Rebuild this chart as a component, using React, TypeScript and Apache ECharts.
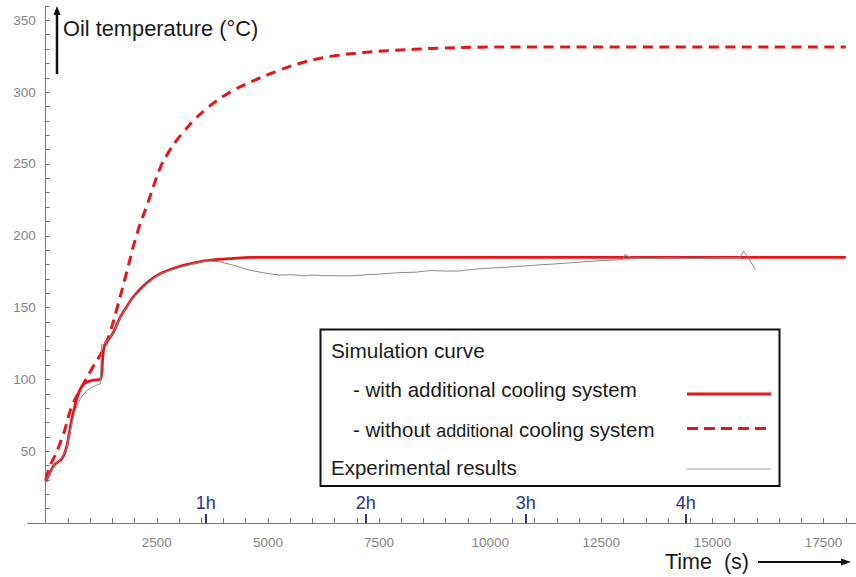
import React, { useEffect, useRef } from 'react';
import * as echarts from 'echarts';

// ---- data (time in s, oil temperature in °C) ----
const withCooling: [number, number][] = [
  [0, 28.7], [100, 35.5], [210, 41], [360, 44.5], [470, 53], [585, 72], [660, 82],
  [735, 90], [810, 95], [885, 97.5], [1070, 99.5], [1230, 100], [1290, 118],
  [1340, 125], [1420, 128], [1520, 132.5], [1672, 143], [1830, 151], [1970, 157.5],
  [2270, 167], [2570, 173.5], [3020, 178.8], [3320, 181], [3700, 183], [4220, 184.3],
  [4600, 185], [18000, 185],
];

const withoutCooling: [number, number][] = [
  [0, 30], [100, 40], [210, 47], [400, 62], [585, 81], [800, 94], [1050, 108],
  [1300, 121], [1450, 133], [1600, 149], [1800, 172], [2050, 201], [2300, 223],
  [2572, 247], [2750, 257.5], [2945, 266.5], [3120, 273], [3320, 280], [3580, 287.5],
  [3850, 294], [4220, 301.3], [4600, 307], [4970, 311.8], [5270, 315.5], [5650, 319.5],
  [6020, 322.5], [6500, 325.3], [7150, 327.6], [7700, 328.9], [8270, 329.8],
  [8800, 330.6], [9770, 331.3], [10500, 331.5], [18000, 331.5],
];

const experimental: [number, number][] = [
  [0, 29], [100, 35], [210, 41], [360, 45], [470, 52], [585, 69], [660, 78], [735, 84],
  [810, 88], [920, 92], [1000, 94], [1150, 96], [1230, 97], [1260, 124], [1300, 124],
  [1410, 128], [1520, 132], [1710, 145], [1970, 157], [2270, 166.5], [2570, 173.5],
  [3020, 178], [3320, 180.5], [3620, 182.5], [3900, 182], [4220, 179.5], [4600, 176],
  [4970, 173.8], [5270, 172.6], [5500, 172.9], [5800, 172.3], [6000, 172.6],
  [6300, 172.2], [6850, 172.1], [7200, 172.8], [7500, 173.3], [7800, 174.0],
  [8000, 174.4], [8300, 174.6], [8650, 175.8], [9000, 175.4], [9320, 175.5],
  [9600, 176.6], [10000, 177.5], [10500, 178.4], [11000, 179.5], [11650, 180.8],
  [12300, 182.3], [12990, 183.5], [13030, 187], [13180, 184.6], [13600, 184.2],
  [14000, 184.6], [14500, 184.2], [15000, 184.5], [15620, 184.6], [15700, 189.3],
  [15800, 185.3], [15960, 176.5],
];

const xLabelValues = [2500, 5000, 7500, 10000, 12500, 15000, 17500];
const xTickValues = Array.from({ length: 37 }, (_, i) => i * 500);
const hourTicks = [3600, 7200, 10800, 14400];
const hourLabels = ['1h', '2h', '3h', '4h'];

const FONT = '"Liberation Sans", Arial, Helvetica, sans-serif';
const RED = '#e3161b';
const NAVY = '#2b3290';
const AXIS = '#7a7a7a';

const GRID_LEFT = 45.7;
const GRID_BOTTOM = 54;

export default function App() {
  const ref = useRef<HTMLDivElement>(null);

  useEffect(() => {
    if (!ref.current) return;
    const chart = echarts.init(ref.current, undefined, { renderer: 'svg' });

    const axisY = 577 - GRID_BOTTOM;

    const option: any = {
      animation: false,
      backgroundColor: '#ffffff',
      grid: { left: GRID_LEFT, right: 0, top: 6, bottom: GRID_BOTTOM, containLabel: false, outerBoundsMode: 'none' },
      xAxis: [
        {
          type: 'value', min: 0, max: 18230, position: 'bottom',
          axisLine: { show: true, onZero: false, lineStyle: { color: AXIS, width: 1 } },
          axisTick: { show: true, inside: true, length: 5, customValues: xTickValues, lineStyle: { color: AXIS } },
          axisLabel: {
            show: true, customValues: xLabelValues, formatter: (v: number) => String(v),
            color: '#858585', fontSize: 13.5, margin: 12, fontFamily: FONT,
          },
          splitLine: { show: false },
        },
        {
          type: 'value', min: 0, max: 18230, position: 'bottom',
          axisLine: { show: false, onZero: false },
          axisTick: { show: true, inside: true, length: 9, customValues: hourTicks, lineStyle: { color: NAVY, width: 2 } },
          axisLabel: {
            show: true, inside: true, customValues: hourTicks,
            formatter: (v: number) => hourLabels[hourTicks.indexOf(v)] ?? '',
            color: NAVY, fontSize: 18, margin: 11, fontFamily: FONT,
          },
          splitLine: { show: false },
        },
      ],
      yAxis: {
        type: 'value', min: 0, max: 360, interval: 10,
        axisLine: { show: true, onZero: false, lineStyle: { color: AXIS, width: 1 } },
        axisTick: { show: true, inside: true, length: 4, lineStyle: { color: AXIS } },
        axisLabel: {
          formatter: (v: number) => (v % 50 === 0 && v > 0 ? String(v) : ''),
          color: '#858585', fontSize: 13.5, margin: 10, fontFamily: FONT,
        },
        splitLine: { show: false },
      },
      series: [
        {
          name: 'without', type: 'line', data: withoutCooling, showSymbol: false, symbol: 'none',
          smooth: 0.4,
          lineStyle: { color: RED, width: 3, type: [10, 6.5] },
        },
        {
          name: 'with', type: 'line', data: withCooling, showSymbol: false, symbol: 'none',
          smooth: 0.3,
          lineStyle: { color: RED, width: 2.8 },
        },
        {
          name: 'experimental', type: 'line', data: experimental, showSymbol: false, symbol: 'none',
          lineStyle: { color: '#8a8a8a', width: 1 },
        },
      ],
      graphic: [
        // short extension of the time axis to the left of the origin
        { type: 'line', shape: { x1: 27, y1: axisY + 0.5, x2: GRID_LEFT, y2: axisY + 0.5 }, style: { stroke: AXIS, lineWidth: 1 } },
        // y-axis title + arrow
        { type: 'line', shape: { x1: 57, y1: 74, x2: 57, y2: 13 }, style: { stroke: '#111', lineWidth: 2.5 } },
        { type: 'polygon', shape: { points: [[57, 6], [53.5, 15], [60.5, 15]] }, style: { fill: '#111' } },
        {
          type: 'text', x: 63, y: 28,
          style: { text: 'Oil temperature (°C)', fontSize: 21.8, fontFamily: FONT, fill: '#1a1a1a', verticalAlign: 'middle' },
        },
        // x-axis title + arrow
        {
          type: 'text', x: 665, y: 562,
          style: { text: 'Time  (s)', fontSize: 21.5, fontFamily: FONT, fill: '#1a1a1a', verticalAlign: 'middle' },
        },
        { type: 'line', shape: { x1: 758, y1: 562, x2: 843, y2: 562 }, style: { stroke: '#111', lineWidth: 2 } },
        { type: 'polygon', shape: { points: [[851, 562], [841, 558.5], [841, 565.5]] }, style: { fill: '#111' } },
        // legend box
        {
          type: 'rect', shape: { x: 320.5, y: 329.5, width: 459, height: 156.5 },
          style: { fill: '#ffffff', stroke: '#111', lineWidth: 2 }, z: 10,
        },
        {
          type: 'text', x: 331, y: 350, z: 11,
          style: { text: 'Simulation curve', fontSize: 20.8, fontFamily: FONT, fill: '#1a1a1a', verticalAlign: 'middle' },
        },
        {
          type: 'text', x: 353, y: 389, z: 11,
          style: { text: '- with additional cooling system', fontSize: 20.5, fontFamily: FONT, fill: '#1a1a1a', verticalAlign: 'middle' },
        },
        {
          type: 'text', x: 353, y: 428, z: 11,
          style: {
            text: '{a|- without }{b|additional}{a| cooling system}',
            verticalAlign: 'middle',
            rich: {
              a: { fontSize: 20.5, fontFamily: FONT, fill: '#1a1a1a', verticalAlign: 'bottom', lineHeight: 24 },
              b: { fontSize: 18, fontFamily: FONT, fill: '#1a1a1a', verticalAlign: 'bottom', lineHeight: 24 },
            },
          },
        },
        {
          type: 'text', x: 331, y: 467, z: 11,
          style: { text: 'Experimental results', fontSize: 20.5, fontFamily: FONT, fill: '#1a1a1a', verticalAlign: 'middle' },
        },
        { type: 'line', z: 11, shape: { x1: 687, y1: 394, x2: 771, y2: 394 }, style: { stroke: RED, lineWidth: 3 } },
        { type: 'line', z: 11, shape: { x1: 687, y1: 428.5, x2: 771, y2: 428.5 }, style: { stroke: RED, lineWidth: 3, lineDash: [11, 6] } },
        { type: 'line', z: 11, shape: { x1: 687, y1: 469, x2: 771, y2: 469 }, style: { stroke: '#999', lineWidth: 1 } },
      ],
    };

    chart.setOption(option);
    return () => chart.dispose();
  }, []);

  return (
    <div
      ref={ref}
      style={{ position: 'absolute', left: 0, top: 0, width: 856, height: 577, background: '#fff' }}
    />
  );
}
